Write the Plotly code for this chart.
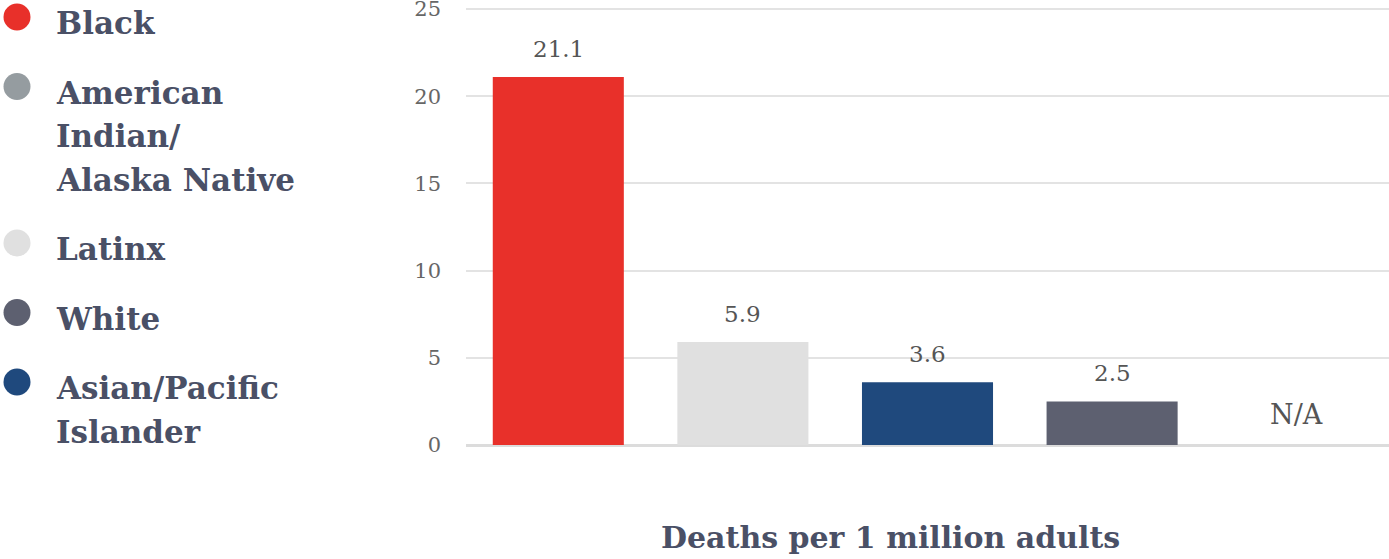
import plotly.graph_objects as go

# Bar data (order as drawn)
bar_groups = ["Black", "Latinx", "Asian/Pacific Islander", "White", "American Indian/Alaska Native"]
bar_values = [21.1, 5.9, 3.6, 2.5, None]
bar_labels = ["21.1", "5.9", "3.6", "2.5", "N/A"]
bar_colors = ["#E8302A", "#E0E0E0", "#1F497D", "#5D6070", "#959CA0"]

# Legend (order as listed)
legend_names = ["Black", "American<br>Indian/<br>Alaska Native", "Latinx", "White", "Asian/Pacific<br>Islander"]
legend_colors = ["#E8302A", "#959CA0", "#E0E0E0", "#5D6070", "#1F497D"]

y_ticks = [0, 5, 10, 15, 20, 25]
axis_title = "Deaths per 1 million adults"

SERIF = "Georgia, 'DejaVu Serif', serif"
TEXT_COLOR = "#4A5066"

W, H = 1389, 559
L, T, B = 466, 0, 114
PW, PH = W - L, H - T - B
UNIT = 436 / 25  # pixels per unit on the y axis


def px_x(x):
    return (x - L) / PW


def px_y(y):
    return 1 - (y - T) / PH


fig = go.Figure()
fig.add_trace(go.Bar(
    x=bar_groups,
    y=[v if v is not None else 0 for v in bar_values],
    marker=dict(color=bar_colors, line=dict(width=0)),
    showlegend=False,
    hoverinfo="skip",
))

# value labels above bars
for g, v, lab in zip(bar_groups, bar_values, bar_labels):
    fig.add_annotation(
        x=g, y=v if v is not None else 0, text=lab, showarrow=False,
        yshift=28 if v is not None else 31, xref="x", yref="y",
        font=dict(family=SERIF, size=23 if v is not None else 27, color="#555555"),
    )

# custom legend on the left (dots + bold serif text)
LEG_FONT = 31
dot_x, text_x, dot_d = 17, 55, 27
first_baseline = 34
line_gap = 43.5
shapes = []
baseline = first_baseline
for name, col in zip(legend_names, legend_colors):
    lines = name.split("<br>")
    dot_y = baseline - 17
    shapes.append(dict(
        type="circle", xref="paper", yref="paper",
        xsizemode="pixel", ysizemode="pixel",
        xanchor=px_x(dot_x), yanchor=px_y(dot_y),
        x0=-dot_d / 2, x1=dot_d / 2, y0=-dot_d / 2, y1=dot_d / 2,
        fillcolor=col, line=dict(width=0), layer="above",
    ))
    for j, ln in enumerate(lines):
        by = baseline + j * line_gap
        fig.add_annotation(
            x=px_x(text_x), y=px_y(by - 0.346 * LEG_FONT), xref="paper", yref="paper",
            text=ln, showarrow=False, xanchor="left", yanchor="middle", borderpad=0,
            font=dict(family=SERIF, size=LEG_FONT, color=TEXT_COLOR, weight="bold"),
        )
    baseline += (len(lines) - 1) * line_gap + 69.5

# axis title
fig.add_annotation(
    x=px_x(890), y=px_y(537), xref="paper", yref="paper", text=axis_title,
    showarrow=False, yanchor="middle",
    font=dict(family=SERIF, size=30, color=TEXT_COLOR, weight="bold"),
)

fig.update_layout(
    width=W, height=H,
    margin=dict(l=L, r=0, t=T, b=B, autoexpand=False),
    paper_bgcolor="white", plot_bgcolor="white",
    bargap=0.29,
    showlegend=False,
    shapes=shapes,
    xaxis=dict(showticklabels=False, showgrid=False, zeroline=False, showline=False,
               range=[-0.5, 4.5], automargin=False, fixedrange=True),
    yaxis=dict(range=[0, PH / UNIT], tickvals=y_ticks, showgrid=True,
               gridcolor="#E3E3E3", gridwidth=2,
               zeroline=True, zerolinecolor="#DCDCDC", zerolinewidth=3,
               ticklabelstandoff=24, ticklabeloverflow="allow",
               automargin=False, fixedrange=True,
               tickfont=dict(family=SERIF, size=21, color="#666666")),
)

fig.write_html("out.html", config={"displayModeBar": False},
               post_script="document.body.style.margin='0';")
